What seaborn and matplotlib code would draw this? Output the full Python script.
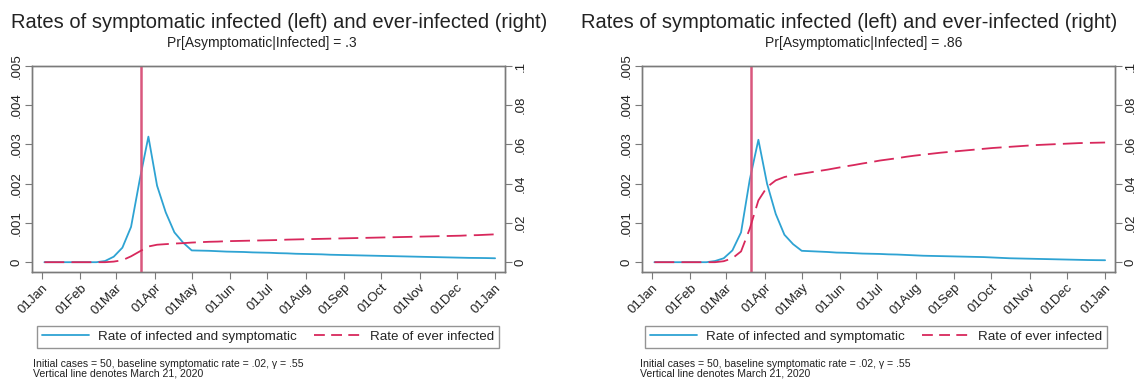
import matplotlib
matplotlib.use('Agg')
import matplotlib.pyplot as plt
import matplotlib.dates as mdates
from matplotlib.lines import Line2D
import pandas as pd
import seaborn as sns

# weekly model output, 03Jan2020 .. 01Jan2021
dates = pd.date_range('2020-01-03', periods=53, freq='7D')

# Pr[Asymptomatic|Infected] = .3
sympt_03 = [0, 0, 0, 0, 0, 0, 0, 0.03, 0.14, 0.37, 0.9, 2.1, 3.2, 1.95, 1.27, 0.76, 0.5, 0.3,
            0.295, 0.29, 0.28, 0.27, 0.265, 0.26, 0.25, 0.245, 0.24, 0.23,
            0.225, 0.215, 0.21, 0.205, 0.2, 0.19, 0.185, 0.18, 0.175, 0.17,
            0.165, 0.16, 0.155, 0.15, 0.145, 0.14, 0.135, 0.13, 0.125, 0.12,
            0.115, 0.11, 0.108, 0.105, 0.1]
ever_03 = [0, 0, 0, 0, 0, 0, 0, 0, 0.0003, 0.001, 0.003, 0.0055, 0.008, 0.0089, 0.0092, 0.0095, 0.0097, 0.0100,
           0.0102, 0.0104, 0.0105, 0.0107, 0.0108, 0.0109, 0.011, 0.0111, 0.0112, 0.0113,
           0.0115, 0.0116, 0.0117, 0.0118, 0.0119, 0.012, 0.0121, 0.0122, 0.0123, 0.0124,
           0.0125, 0.0126, 0.0127, 0.0128, 0.0129, 0.013, 0.0131, 0.0132, 0.0133, 0.0134,
           0.0135, 0.0137, 0.0138, 0.014, 0.0142]

# Pr[Asymptomatic|Infected] = .86
sympt_86 = [0, 0, 0, 0, 0, 0, 0, 0.03, 0.1, 0.3, 0.76, 2.1, 3.12, 2.0, 1.23, 0.7, 0.46, 0.29,
            0.28, 0.27, 0.26, 0.245, 0.24, 0.23, 0.22, 0.215, 0.21, 0.2,
            0.195, 0.185, 0.175, 0.165, 0.16, 0.155, 0.15, 0.145, 0.14, 0.135,
            0.13, 0.12, 0.11, 0.1, 0.095, 0.09, 0.085, 0.08, 0.075, 0.07,
            0.065, 0.06, 0.055, 0.052, 0.05]
ever_86 = [0, 0, 0, 0, 0, 0, 0, 0, 0.0005, 0.002, 0.0055, 0.017, 0.0315, 0.0383, 0.0417, 0.0434, 0.0444, 0.0451,
           0.0458, 0.0465, 0.0472, 0.048, 0.0488, 0.0495, 0.0503, 0.051, 0.0518, 0.0524,
           0.053, 0.0537, 0.0543, 0.0548, 0.0553, 0.0558, 0.0562, 0.0566, 0.057, 0.0574,
           0.0578, 0.0582, 0.0585, 0.0588, 0.0591, 0.0594, 0.0597, 0.0599, 0.0601, 0.0603,
           0.0605, 0.0607, 0.0608, 0.0609, 0.061]

subtitles = ['Pr[Asymptomatic|Infected] = .3', 'Pr[Asymptomatic|Infected] = .86']
title = 'Rates of symptomatic infected (left) and ever-infected (right)'
notes = 'Initial cases = 50, baseline symptomatic rate = .02, \u03b3 = .55\nVertical line denotes March 21, 2020'
left_ticks = [0, 0.001, 0.002, 0.003, 0.004, 0.005]
left_labels = ['0', '.001', '.002', '.003', '.004', '.005']
right_ticks = [0, 0.02, 0.04, 0.06, 0.08, 0.1]
right_labels = ['0', '.02', '.04', '.06', '.08', '.1']
month_ticks = pd.date_range('2020-01-01', '2021-01-01', freq='MS')

BLUE = '#2ea3d3'
RED = '#d8285c'
VLINE = '#d9577d'
SPINE = '#7a7a7a'

sns.set_theme(style='white')
plt.rcParams['font.family'] = ['Liberation Sans', 'DejaVu Sans']

fig = plt.figure(figsize=(11.39, 3.83), dpi=100)
W, H = 1139, 383

panels = [
    dict(sympt=sympt_03, ever=ever_03, sub=subtitles[0], box=(32, 66, 505, 272),
         tcx=279, scx=262, leg=(37, 499), notex=33),
    dict(sympt=sympt_86, ever=ever_86, sub=subtitles[1], box=(642, 66, 1115, 272),
         tcx=849, scx=864, leg=(645, 1107), notex=640),
]

for p in panels:
    x0, y0, x1, y1 = p['box']
    ax = fig.add_axes([x0 / W, 1 - y1 / H, (x1 - x0) / W, (y1 - y0) / H])
    ax2 = ax.twinx()

    df = pd.DataFrame({'date': dates,
                       'sympt': [v / 1000 for v in p['sympt']],
                       'ever': p['ever']})
    sns.lineplot(data=df, x='date', y='sympt', ax=ax, color=BLUE, linewidth=1.3)
    sns.lineplot(data=df, x='date', y='ever', ax=ax2, color=RED, linewidth=1.3)
    ax2.lines[0].set_dashes([11, 4])
    ax.axvline(pd.Timestamp('2020-03-21'), color=VLINE, linewidth=1.8, zorder=5)

    ax.set_ylim(-0.00025, 0.005)
    ax2.set_ylim(-0.005, 0.1)
    ax.set_xlim(pd.Timestamp('2020-01-01') - pd.Timedelta(days=8),
                pd.Timestamp('2021-01-01') + pd.Timedelta(days=8))

    ax.set_yticks(left_ticks)
    ax.set_yticklabels(left_labels, rotation=90, va='center', fontsize=9.5)
    ax2.set_yticks(right_ticks)
    ax2.set_yticklabels(right_labels, rotation=90, va='center', fontsize=9.5)
    ax.set_xticks(month_ticks)
    ax.xaxis.set_major_formatter(mdates.DateFormatter('%d%b'))
    plt.setp(ax.get_xticklabels(), rotation=45, ha='right', rotation_mode='anchor',
             fontsize=9.5)

    for a in (ax, ax2):
        a.set_xlabel('')
        a.set_ylabel('')
        a.grid(False)
        for s in a.spines.values():
            s.set_color(SPINE)
            s.set_linewidth(1.0)
        a.tick_params(axis='both', length=5, width=0.8, color=SPINE, pad=2,
                      labelcolor='#222222')
    ax.tick_params(axis='y', left=True, right=False)
    ax.tick_params(axis='x', bottom=True)
    ax2.tick_params(axis='y', right=True)

    fig.text(p['tcx'] / W, 1 - 22 / H, title, ha='center', va='center', fontsize=14.5,
             color='#222222')
    fig.text(p['scx'] / W, 1 - 43 / H, p['sub'], ha='center', va='center', fontsize=10,
             color='#222222')

    handles = [Line2D([], [], color=BLUE, linewidth=1.3),
               Line2D([], [], color=RED, linewidth=1.3, dashes=[6, 3.5])]
    lx0, lx1 = p['leg']
    leg = ax.legend(handles, ['Rate of infected and symptomatic', 'Rate of ever infected'],
                    loc='center', bbox_to_anchor=((lx0 + lx1) / 2 / W, 1 - 337 / H),
                    bbox_transform=fig.transFigure, ncol=2, fontsize=9.6, frameon=True,
                    fancybox=False, edgecolor=SPINE, handlelength=3.5, columnspacing=1.3,
                    handletextpad=0.7, borderpad=0.35, borderaxespad=0)
    leg.get_frame().set_linewidth(1.0)

    fig.text(p['notex'] / W, 1 - 369 / H, notes, ha='left', va='center', fontsize=7.6,
             color='#222222', linespacing=0.95)

fig.savefig('out.png', dpi=100, facecolor='white')
